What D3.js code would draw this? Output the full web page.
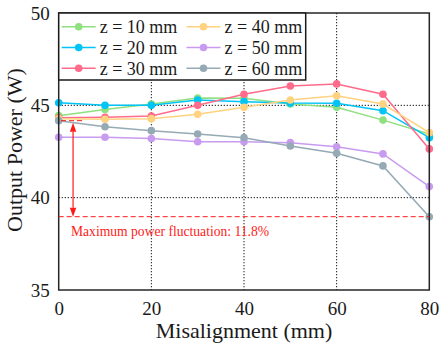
<!DOCTYPE html>
<html>
<head>
<meta charset="utf-8">
<script src="https://cdn.jsdelivr.net/npm/d3@7/dist/d3.min.js"></script>
<style>
  html, body { margin: 0; padding: 0; background: #fff; }
  svg { display: block; }
  text { font-family: "Liberation Serif", "Times New Roman", serif; }
</style>
</head>
<body>
<svg id="chart" width="441" height="349"></svg>
<script>
// Misalignment positions (mm)
const misalignment = [0, 10, 20, 30, 40, 50, 60, 70, 80];

// Output power (W) for each transfer distance z
const z10 = [44.44, 44.78, 45.07, 45.40, 45.38, 45.07, 44.89, 44.20, 43.45];
const z20 = [45.14, 45.00, 45.00, 45.29, 45.20, 45.12, 45.11, 44.71, 43.25];
const z30 = [44.33, 44.35, 44.42, 45.00, 45.60, 46.05, 46.16, 45.60, 42.64];
const z40 = [44.27, 44.24, 44.28, 44.52, 44.89, 45.29, 45.52, 45.07, 43.52];
const z50 = [43.27, 43.27, 43.20, 43.03, 43.03, 42.98, 42.76, 42.37, 40.60];
const z60 = [44.17, 43.84, 43.63, 43.45, 43.25, 42.80, 42.40, 41.72, 38.97];

const seriesNames = ["z = 10 mm", "z = 20 mm", "z = 30 mm", "z = 40 mm", "z = 50 mm", "z = 60 mm"];
const seriesValues = [z10, z20, z30, z40, z50, z60];
const seriesColors = ["#8fe07f", "#00c4f5", "#ff6b8a", "#ffd27f", "#c89bf0", "#95aab4"];

const xTicks = [0, 20, 40, 60, 80];
const yTicks = [35, 40, 45, 50];
const xGrid = [20, 40, 60];
const yGrid = [40, 45];

// Fluctuation annotation: from the highest starting level to the lowest reading
const fluctHigh = z60[0];
const fluctLow = z60[z60.length - 1];
const fluctLabel = "Maximum power fluctuation: 11.8%";

const svg = d3.select("#chart");
const m = { left: 58.7, right: 429.3, top: 13, bottom: 290 };

const x = d3.scaleLinear().domain([0, 80]).range([m.left, m.right]);
const y = d3.scaleLinear().domain([35, 50]).range([m.bottom, m.top]);

// Dotted grid
svg.append("g").selectAll("line").data(xGrid).join("line")
  .attr("x1", d => x(d)).attr("x2", d => x(d))
  .attr("y1", m.top).attr("y2", m.bottom)
  .attr("stroke", "#1a1a1a").attr("stroke-width", 1).attr("stroke-dasharray", "1.3,1.7");
svg.append("g").selectAll("line").data(yGrid).join("line")
  .attr("x1", m.left).attr("x2", m.right)
  .attr("y1", d => y(d)).attr("y2", d => y(d))
  .attr("stroke", "#1a1a1a").attr("stroke-width", 1).attr("stroke-dasharray", "1.3,1.7");

// Axes (labels only, frame drawn separately)
const xAxis = svg.append("g").attr("transform", `translate(0,${m.bottom})`)
  .call(d3.axisBottom(x).tickValues(xTicks).tickSize(0).tickPadding(12));
xAxis.select(".domain").remove();
xAxis.selectAll("text").attr("font-size", 19).attr("fill", "#1a1a1a")
  .attr("font-family", "Liberation Serif, Times New Roman, serif");

const yAxis = svg.append("g").attr("transform", `translate(${m.left},0)`)
  .call(d3.axisLeft(y).tickValues(yTicks).tickSize(0).tickPadding(9));
yAxis.select(".domain").remove();
yAxis.selectAll("text").attr("font-size", 19).attr("fill", "#1a1a1a")
  .attr("font-family", "Liberation Serif, Times New Roman, serif");

// Series lines and markers
const line = d3.line().x((d, i) => x(misalignment[i])).y(d => y(d));
seriesValues.forEach((vals, k) => {
  const g = svg.append("g");
  g.append("path").datum(vals)
    .attr("d", line).attr("fill", "none")
    .attr("stroke", seriesColors[k]).attr("stroke-width", 1.5);
  g.selectAll("circle").data(vals).join("circle")
    .attr("cx", (d, i) => x(misalignment[i])).attr("cy", d => y(d))
    .attr("r", 3.8).attr("fill", seriesColors[k]);
});

// Plot frame
svg.append("rect")
  .attr("x", m.left).attr("y", m.top)
  .attr("width", m.right - m.left).attr("height", m.bottom - m.top)
  .attr("fill", "none").attr("stroke", "#262626").attr("stroke-width", 1.5);

// Fluctuation annotation
const red = "#ff1a1a";
svg.append("line")
  .attr("x1", m.left).attr("x2", m.right)
  .attr("y1", y(fluctLow)).attr("y2", y(fluctLow))
  .attr("stroke", red).attr("stroke-width", 1).attr("stroke-dasharray", "5,3");
svg.append("line")
  .attr("x1", x(0.5)).attr("x2", x(5.5))
  .attr("y1", y(fluctHigh)).attr("y2", y(fluctHigh))
  .attr("stroke", red).attr("stroke-width", 1).attr("stroke-dasharray", "5,3");

const ax = x(3.1);
const yTop = y(fluctHigh) + 2;
const yBot = y(fluctLow);
const head = 9, halfW = 3.2;
svg.append("line")
  .attr("x1", ax).attr("x2", ax)
  .attr("y1", yTop + head).attr("y2", yBot - head)
  .attr("stroke", red).attr("stroke-width", 1.2);
svg.append("path")
  .attr("d", `M${ax},${yTop} L${ax - halfW},${yTop + head} L${ax + halfW},${yTop + head} Z`)
  .attr("fill", red);
svg.append("path")
  .attr("d", `M${ax},${yBot} L${ax - halfW},${yBot - head} L${ax + halfW},${yBot - head} Z`)
  .attr("fill", red);

svg.append("text")
  .attr("x", 71).attr("y", 236)
  .attr("font-size", 13.6).attr("fill", red)
  .text(fluctLabel);

// Legend
const lg = svg.append("g");
lg.append("rect")
  .attr("x", m.left).attr("y", m.top)
  .attr("width", 305.7 - m.left).attr("height", 80 - m.top)
  .attr("fill", "#fff").attr("stroke", "#1a1a1a").attr("stroke-width", 1.5);
const colX = [61.7, 186.5];
const rowY = [26.7, 47.5, 68.3];
seriesNames.forEach((name, k) => {
  const cx = colX[Math.floor(k / 3)];
  const cy = rowY[k % 3];
  lg.append("line")
    .attr("x1", cx).attr("x2", cx + 34)
    .attr("y1", cy).attr("y2", cy)
    .attr("stroke", seriesColors[k]).attr("stroke-width", 1.5);
  lg.append("circle")
    .attr("cx", cx + 17).attr("cy", cy).attr("r", 3.8)
    .attr("fill", seriesColors[k]);
  lg.append("text")
    .attr("x", cx + 38).attr("y", cy + 6.3)
    .attr("font-size", 18).attr("fill", "#1a1a1a")
    .text(name);
});

// Axis titles
svg.append("text")
  .attr("x", (m.left + m.right) / 2).attr("y", 337.5)
  .attr("text-anchor", "middle").attr("font-size", 22).attr("fill", "#1a1a1a")
  .text("Misalignment (mm)");
svg.append("text")
  .attr("transform", "translate(22,150) rotate(-90)")
  .attr("text-anchor", "middle").attr("font-size", 22).attr("fill", "#1a1a1a")
  .text("Output Power (W)");
</script>
</body>
</html>
